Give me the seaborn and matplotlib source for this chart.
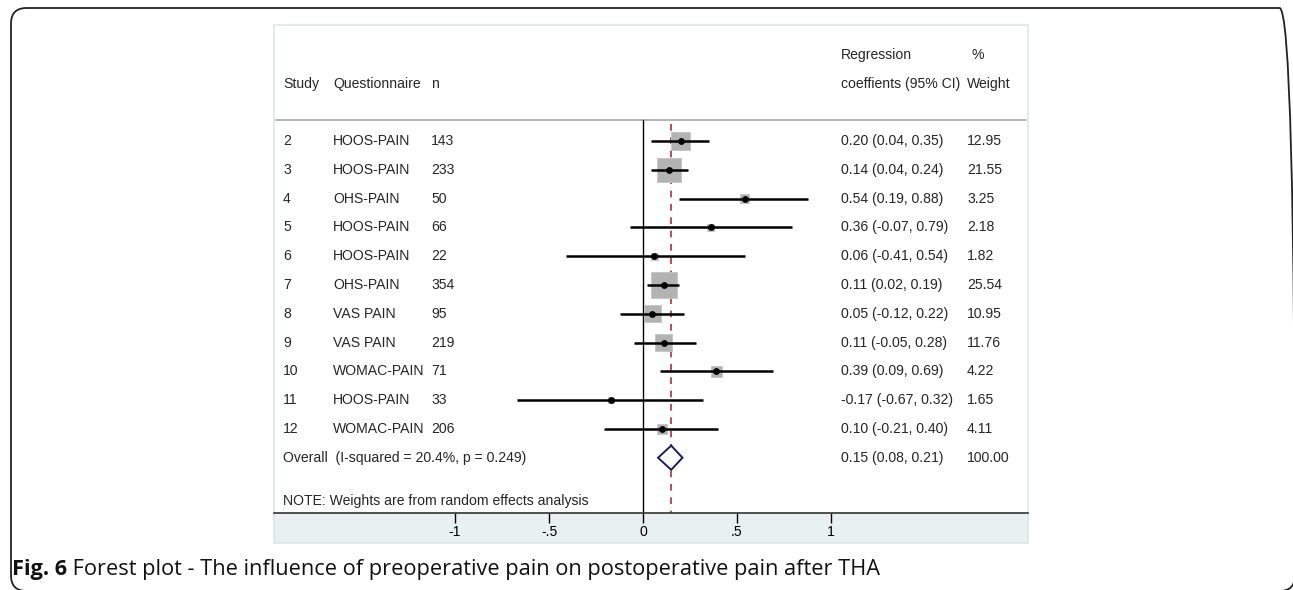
import matplotlib
matplotlib.use("Agg")
import matplotlib.pyplot as plt
from matplotlib.patches import Rectangle, FancyBboxPatch, Polygon
import seaborn as sns
import pandas as pd
import numpy as np

# ---------------- data ----------------
studies = ["2", "3", "4", "5", "6", "7", "8", "9", "10", "11", "12"]
questionnaires = ["HOOS-PAIN", "HOOS-PAIN", "OHS-PAIN", "HOOS-PAIN", "HOOS-PAIN",
                  "OHS-PAIN", "VAS PAIN", "VAS PAIN", "WOMAC-PAIN", "HOOS-PAIN", "WOMAC-PAIN"]
n_values = [143, 233, 50, 66, 22, 354, 95, 219, 71, 33, 206]
estimates = [0.20, 0.14, 0.54, 0.36, 0.06, 0.11, 0.05, 0.11, 0.39, -0.17, 0.10]
lower_ci = [0.04, 0.04, 0.19, -0.07, -0.41, 0.02, -0.12, -0.05, 0.09, -0.67, -0.21]
upper_ci = [0.35, 0.24, 0.88, 0.79, 0.54, 0.19, 0.22, 0.28, 0.69, 0.32, 0.40]
weights = [12.95, 21.55, 3.25, 2.18, 1.82, 25.54, 10.95, 11.76, 4.22, 1.65, 4.11]
overall_est = 0.15
overall_lo = 0.08
overall_hi = 0.21
overall_label = "Overall  (I-squared = 20.4%, p = 0.249)"
tick_values = [-1, -0.5, 0, 0.5, 1]
tick_labels = ["-1", "-.5", "0", ".5", "1"]
note_text = "NOTE: Weights are from random effects analysis"
caption_bold = "Fig. 6"
caption_rest = " Forest plot - The influence of preoperative pain on postoperative pain after THA"

df = pd.DataFrame({"study": studies, "q": questionnaires, "n": n_values,
                   "est": estimates, "lo": lower_ci, "hi": upper_ci, "w": weights})
df["row"] = np.arange(len(df))

# ---------------- figure ----------------
sns.set_theme(style="white")
plt.rcParams["font.family"] = ["Liberation Sans", "DejaVu Sans"]

W, H = 1293, 590
fig = plt.figure(figsize=(W / 100, H / 100), dpi=100)
fig.patch.set_facecolor("white")


def fx(px):
    return px / W


def fy(py):
    return 1 - py / H


# outer rounded frame
frame = FancyBboxPatch((fx(11), fy(591)), fx(1295) - fx(11), (591 - 8) / H,
                       boxstyle="round,pad=0,rounding_size=0.012",
                       transform=fig.transFigure, facecolor="none",
                       edgecolor="#222222", linewidth=1.3, mutation_aspect=W / H, zorder=-2)
fig.patches.append(frame)

# panel background strip and border
strip = Rectangle((fx(274), fy(543)), fx(1028) - fx(274), (543 - 513) / H,
                  transform=fig.transFigure, facecolor="#e9f0f2", edgecolor="none", zorder=-1)
fig.patches.append(strip)
border = Rectangle((fx(274), fy(543)), fx(1028) - fx(274), (543 - 25) / H,
                   transform=fig.transFigure, facecolor="none", edgecolor="#dbe6ea",
                   linewidth=1.2, zorder=-1)
fig.patches.append(border)

ax = fig.add_axes([fx(274), fy(513), fx(1028) - fx(274), (513 - 25) / H])
ax.set_facecolor("none")
ax.set_zorder(2)

x_left, x_right = -1.963, 2.048
ax.set_xlim(x_left, x_right)
row_top, row_bot = -4.03, 12.92
ax.set_ylim(row_bot, row_top)

# header separator
ax.axhline(-0.73, color="#a8a8a8", lw=1.2, xmin=0.003, xmax=0.997)

# zero line and overall dashed line
ax.plot([0, 0], [-0.73, row_bot], color="black", lw=1.0, zorder=2)
ax.plot([overall_est, overall_est], [-0.6, row_bot], color="#b03030", lw=1.2,
        ls=(0, (4, 4)), zorder=2)

# weight boxes
sns.scatterplot(data=df, x="est", y="row", size="w",
                sizes=(min(weights) * 13.5, max(weights) * 13.5),
                size_norm=(min(weights), max(weights)), marker="s", color="#b3b3b3",
                edgecolor="#c4c4c4", linewidth=0.6, legend=False, ax=ax, zorder=3)

# CI lines
ax.hlines(df["row"], df["lo"], df["hi"], color="black", lw=1.8, zorder=4)

# point estimates
sns.scatterplot(data=df, x="est", y="row", marker="o", color="black", s=24,
                edgecolor="black", linewidth=0, legend=False, ax=ax, zorder=5)

# overall diamond
orow = len(df)
dh = 0.42
diamond = Polygon([[overall_lo, orow], [overall_est, orow - dh], [overall_hi, orow],
                   [overall_est, orow + dh]], closed=True, facecolor="white",
                  edgecolor="#1c1c5a", lw=1.4, zorder=5)
ax.add_patch(diamond)

# text columns
fs = 10.1
trans = ax.get_yaxis_transform()
span = 1028 - 274
col_study = (283 - 274) / span
col_q = (333 - 274) / span
col_n = (431 - 274) / span
col_coef = (841 - 274) / span
col_w = (967 - 274) / span

ax.text(col_study, -1.98, "Study", transform=trans, fontsize=fs, va="center")
ax.text(col_q, -1.98, "Questionnaire", transform=trans, fontsize=fs, va="center")
ax.text(col_n, -1.98, "n", transform=trans, fontsize=fs, va="center")
ax.text(col_coef, -3.0, "Regression", transform=trans, fontsize=fs, va="center")
ax.text(col_coef, -1.98, "coeffients (95% CI)", transform=trans, fontsize=fs, va="center")
ax.text(col_w + 0.006, -3.0, "%", transform=trans, fontsize=fs, va="center")
ax.text(col_w, -1.98, "Weight", transform=trans, fontsize=fs, va="center")

for i, r in df.iterrows():
    ax.text(col_study, r["row"], r["study"], transform=trans, fontsize=fs, va="center")
    ax.text(col_q, r["row"], r["q"], transform=trans, fontsize=fs, va="center")
    ax.text(col_n, r["row"], str(r["n"]), transform=trans, fontsize=fs, va="center")
    ax.text(col_coef, r["row"], f"{r['est']:.2f} ({r['lo']:.2f}, {r['hi']:.2f})",
            transform=trans, fontsize=fs, va="center")
    ax.text(col_w, r["row"], f"{r['w']:.2f}", transform=trans, fontsize=fs, va="center")

ax.text(col_study, orow, overall_label, transform=trans, fontsize=fs, va="center")
ax.text(col_coef, orow, f"{overall_est:.2f} ({overall_lo:.2f}, {overall_hi:.2f})",
        transform=trans, fontsize=fs, va="center")
ax.text(col_w, orow, "100.00", transform=trans, fontsize=fs, va="center")
ax.text(col_study, orow + 1.5, note_text, transform=trans, fontsize=fs, va="center")

# axis styling
for s in ["top", "left", "right"]:
    ax.spines[s].set_visible(False)
ax.spines["bottom"].set_color("#333333")
ax.spines["bottom"].set_linewidth(1.2)
ax.set_yticks([])
ax.set_xticks(tick_values)
ax.set_xticklabels(tick_labels, fontsize=fs)
ax.tick_params(axis="x", direction="out", length=7, width=1, colors="black", pad=2,
               bottom=True, labelbottom=True)
ax.set_xlabel("")
ax.set_ylabel("")

# caption
cap_y = fy(569)
t1 = fig.text(fx(12), cap_y, caption_bold, fontsize=15.7, fontweight="bold",
              family=["Open Sans", "DejaVu Sans"], va="center", color="#111111")
fig.canvas.draw()
bb = t1.get_window_extent()
fig.text(bb.x1 / W, cap_y, caption_rest, fontsize=15.7,
         family=["Open Sans", "DejaVu Sans"], va="center", color="#111111")

fig.savefig("out.png", dpi=100)
